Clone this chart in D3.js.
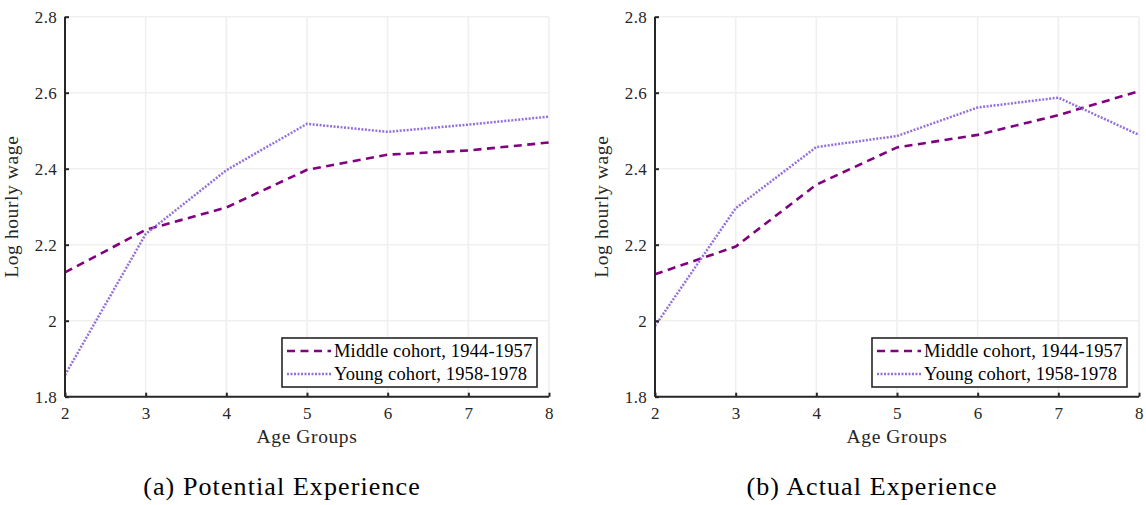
<!DOCTYPE html>
<html>
<head>
<meta charset="utf-8">
<script src="https://cdn.jsdelivr.net/npm/d3@7"></script>
<style>
  html, body { margin: 0; padding: 0; background: #fff; }
  svg text { font-family: "Liberation Serif", serif; fill: #262626; }
</style>
</head>
<body>
<svg id="fig" width="1146" height="505"></svg>
<script>
// Age groups on the x axis
const ageGroups = [2, 3, 4, 5, 6, 7, 8];
const yTicks = [1.8, 2.0, 2.2, 2.4, 2.6, 2.8];

// Panel (a): potential experience
const potentialMiddle = [2.127, 2.239, 2.298, 2.397, 2.437, 2.448, 2.469];
const potentialYoung  = [1.857, 2.228, 2.396, 2.518, 2.497, 2.516, 2.537];

// Panel (b): actual experience
const actualMiddle = [2.122, 2.195, 2.358, 2.456, 2.489, 2.541, 2.604];
const actualYoung  = [1.986, 2.296, 2.457, 2.486, 2.561, 2.587, 2.489];

const seriesNames = ["Middle cohort, 1944-1957", "Young cohort, 1958-1978"];
const captions = ["(a) Potential Experience", "(b) Actual Experience"];

const panels = [
  { left: 65,  caption: captions[0], series: [potentialMiddle, potentialYoung] },
  { left: 655, caption: captions[1], series: [actualMiddle, actualYoung] }
];

const styles = [
  { color: "#800080", width: 2.6, dash: "8,5.5" },
  { color: "#9370DB", width: 2.5, dash: "2,1.5" }
];

const FONT = '"Liberation Serif", serif';
const plotW = 484, plotTop = 16.7, plotBottom = 396.7;
const svg = d3.select("#fig");

panels.forEach(p => {
  const g = svg.append("g").attr("transform", `translate(${p.left},0)`)
    .attr("font-family", FONT);
  const x = d3.scaleLinear().domain([2, 8]).range([0, plotW]);
  const y = d3.scaleLinear().domain([1.8, 2.8]).range([plotBottom, plotTop]);

  // grid
  g.append("g").selectAll("line").data(ageGroups).join("line")
    .attr("x1", d => x(d)).attr("x2", d => x(d))
    .attr("y1", plotTop).attr("y2", plotBottom)
    .attr("stroke", "#efefef").attr("stroke-width", 1.6);
  g.append("g").selectAll("line").data(yTicks).join("line")
    .attr("x1", 0).attr("x2", plotW)
    .attr("y1", d => y(d)).attr("y2", d => y(d))
    .attr("stroke", "#efefef").attr("stroke-width", 1.6);

  // lines
  p.series.forEach((vals, i) => {
    const line = d3.line().x((d, j) => x(ageGroups[j])).y(d => y(d));
    g.append("path").datum(vals)
      .attr("d", line)
      .attr("fill", "none")
      .attr("stroke", styles[i].color)
      .attr("stroke-width", styles[i].width)
      .attr("stroke-dasharray", styles[i].dash);
  });

  // axes
  const xAxis = d3.axisBottom(x).tickValues(ageGroups).tickFormat(d3.format("d"))
    .tickSizeInner(-4).tickSizeOuter(0).tickPadding(10);
  const gx = g.append("g").attr("transform", `translate(0,${plotBottom})`).call(xAxis);
  const yAxis = d3.axisLeft(y).tickValues(yTicks).tickFormat(d => d === 2 ? "2" : d3.format(".1f")(d))
    .tickSizeInner(-4).tickSizeOuter(0).tickPadding(8);
  const gy = g.append("g").call(yAxis);
  [gx, gy].forEach(a => {
    a.attr("font-family", FONT);
    a.select(".domain").attr("stroke", "#262626").attr("stroke-width", 2);
    a.selectAll(".tick line").attr("stroke", "#262626").attr("stroke-width", 2);
    a.selectAll(".tick text").attr("font-size", 17).attr("fill", "#262626")
      .attr("letter-spacing", 0.3);
  });
  gy.select(".domain").attr("d", `M0,${plotTop}V${plotBottom}`);
  gx.select(".domain").attr("d", `M0,0H${plotW}`);

  // axis titles
  g.append("text").attr("x", plotW / 2).attr("y", 443).attr("text-anchor", "middle")
    .attr("font-size", 19.5).attr("letter-spacing", 0.6).text("Age Groups");
  g.append("text").attr("transform", `translate(${-47},${(plotTop + plotBottom) / 2}) rotate(-90)`)
    .attr("text-anchor", "middle").attr("font-size", 19.5).attr("letter-spacing", 0.6)
    .text("Log hourly wage");

  // legend
  const lg = g.append("g").attr("transform", `translate(${217},${338})`);
  lg.append("rect").attr("width", 255).attr("height", 49)
    .attr("fill", "#fff").attr("stroke", "#262626").attr("stroke-width", 1.6);
  seriesNames.forEach((name, i) => {
    const cy = 13 + i * 23;
    lg.append("line").attr("x1", 5).attr("x2", 49).attr("y1", cy).attr("y2", cy)
      .attr("stroke", styles[i].color).attr("stroke-width", styles[i].width)
      .attr("stroke-dasharray", styles[i].dash);
    lg.append("text").attr("x", 52).attr("y", cy + 5.5).attr("font-size", 18.5)
      .attr("letter-spacing", 0.15).style("fill", "#000").text(name);
  });

  // caption
  g.append("text").attr("x", plotW / 2 - 25).attr("y", 495).attr("text-anchor", "middle")
    .attr("font-size", 26).attr("letter-spacing", 1.1).style("fill", "#000").text(p.caption);
});
</script>
</body>
</html>
